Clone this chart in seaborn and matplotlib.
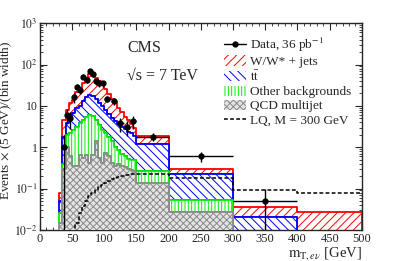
import numpy as np
import pandas as pd
import matplotlib
matplotlib.use("Agg")
import matplotlib.pyplot as plt
import seaborn as sns
from matplotlib.patches import Patch
from matplotlib.lines import Line2D
from matplotlib.ticker import MultipleLocator, FixedLocator, FixedFormatter, LogLocator

# Bin edges of the stacked histograms (GeV)
bin_edges = [30, 35, 40, 45, 50, 55, 60, 65, 70, 75, 80, 85, 90, 95, 100, 105,
             110, 115, 120, 125, 130, 135, 140, 145, 150, 200, 300, 400, 500]

# Events x (5 GeV)/(bin width), per process
w_jets = [0.028, 2.8, 4.2, 6.5, 7.4, 13.3, 17, 22, 31, 41.7, 37.5, 32.5, 28, 23, 17,
          12.5, 10, 7.8, 5.4, 3.9, 2.8, 2.1, 1.4, 1.1, 0.65, 0.08, 0.016, 0.027]
ttbar = [0.024, 1.4, 1.8, 3.3, 4.0, 5.6, 6.2, 8.4, 10.5, 12.3, 11.8, 9.9, 8.5, 7.4, 5.8,
         4.7, 3.6, 3.17, 2.74, 2.4, 2.1, 1.88, 1.7, 1.4, 0.94, 0.166, 0.020, 0]
other_bkg = [0.011, 0.1, 1.0, 1.6, 2.25, 2.75, 3.15, 4.05, 4.85, 5.58, 5.05, 3.2, 2.95, 2.18,
             1.48, 1.2, 0.98, 0.67, 0.46, 0.34, 0.27, 0.22, 0.22, 0.23, 0.12, 0.027, 0, 0]
qcd = [0.015, 0.3, 1.0, 0.6, 0.35, 0.35, 0.65, 0.55, 0.65, 0.42, 0.65, 1.4, 0.55, 0.42, 0.72,
       0.6, 0.42, 0.36, 0.4, 0.36, 0.33, 0.3, 0.28, 0.27, 0.14, 0.027, 0, 0]
lq_300 = [0, 0, 0, 0, 0.009, 0.015, 0.025, 0.037, 0.05, 0.065, 0.08, 0.095, 0.11, 0.125,
          0.14, 0.155, 0.17, 0.18, 0.19, 0.2, 0.21, 0.215, 0.22, 0.225, 0.23, 0.18, 0.092, 0.078]

# Data points
data_x = [37.5, 42.5, 47.5, 52.5, 57.5, 62.5, 67.5, 72.5, 77.5, 82.5, 87.5, 92.5, 97.5,
          105, 115, 125, 135, 145, 175, 250, 350]
data_y = [1, 6, 5, 16, 29, 24, 51, 43, 68, 59, 39, 35, 35, 15, 13, 3.8, 3.1, 4.2, 1.8, 0.6, 0.05]
data_err = [1, 2.4, 2.2, 4, 5.4, 4.9, 7.1, 6.6, 8.2, 7.7, 6.2, 5.9, 5.9, 2.7, 2.5, 1.4, 1.2,
            1.4, 0.42, 0.17, 0.05]
data_xerr = [2.5] * 13 + [5, 5, 5, 5, 5, 25, 50, 50]

y_ticks = [1e-2, 1e-1, 1, 10, 1e2, 1e3]
y_tick_labels = ["$10^{-2}$", "$10^{-1}$", "1", "10", "$10^{2}$", "$10^{3}$"]

order = ["W/W* + jets", "tt", "Other backgrounds", "QCD multijet"]
colors = {"W/W* + jets": "#ff0000", "tt": "#0000ff",
          "Other backgrounds": "#00ee00", "QCD multijet": "#8a8a8a"}
hatches = {"W/W* + jets": "////", "tt": "\\\\\\\\",
           "Other backgrounds": "|||||", "QCD multijet": "xxxxx"}
faces = {"W/W* + jets": "white", "tt": "white",
         "Other backgrounds": "white", "QCD multijet": "#e4e4e4"}

sns.set_style("ticks")
plt.rcParams["font.family"] = ["Liberation Serif", "DejaVu Serif"]
plt.rcParams["mathtext.fontset"] = "stix"
plt.rcParams["hatch.linewidth"] = 0.7

centers = [(a + b) / 2 for a, b in zip(bin_edges[:-1], bin_edges[1:])]
filas = []
for name, vals in zip(order, [w_jets, ttbar, other_bkg, qcd]):
    for c, v in zip(centers, vals):
        filas.append({"mt": c, "val": v, "proc": name})
df = pd.DataFrame(filas)

fig = plt.figure(figsize=(4.07, 2.61), dpi=100)
ax = fig.add_axes([0.098, 0.119, 0.791, 0.792])

sns.histplot(data=df, x="mt", weights="val", hue="proc", hue_order=order,
             bins=bin_edges, multiple="stack", element="step", fill=True,
             palette=colors, alpha=1, linewidth=1.3, legend=False, ax=ax)

# hatch + white fill per process, top layer drawn first
zord = {name: i + 1 for i, name in enumerate(order)}
for coll in ax.collections:
    fc = tuple(np.round(coll.get_facecolor()[0][:3], 3))
    for name in order:
        if tuple(np.round(matplotlib.colors.to_rgb(colors[name]), 3)) == fc:
            coll.set_facecolor(faces[name])
            coll.set_edgecolor(colors[name])
            coll.set_hatch(hatches[name])
            coll.set_linewidth(1.3)
            coll.set_zorder(zord[name])

sns.histplot(x=centers, weights=lq_300, bins=bin_edges, element="step", fill=False,
             color="black", linewidth=1.1, linestyle=(0, (2.5, 1.5)), ax=ax, zorder=8)

ax.errorbar(data_x, data_y, yerr=data_err, xerr=data_xerr, fmt="o", color="black",
            ms=3.5, lw=1, capsize=0, zorder=10)

ax.set_yscale("log")
ax.set_xlim(0, 500)
ax.set_ylim(1e-2, 1e3)
ax.xaxis.set_major_locator(MultipleLocator(50))
ax.xaxis.set_minor_locator(MultipleLocator(10))
ax.yaxis.set_major_locator(FixedLocator(y_ticks))
ax.yaxis.set_major_formatter(FixedFormatter(y_tick_labels))
ax.yaxis.set_minor_locator(LogLocator(base=10, subs=np.arange(2, 10)))
ax.tick_params(which="both", direction="in", top=True, right=True, labelsize=9)
ax.tick_params(axis="y", labelsize=8.5, pad=1.5)
ax.tick_params(which="major", length=5, width=0.8)
ax.tick_params(axis="x", pad=2)
ax.tick_params(which="minor", length=2.5, width=0.6)
for s in ax.spines.values():
    s.set_linewidth(1)

ax.set_ylabel("Events $\\times$ (5 GeV)/(bin width)", fontsize=9.5)
ax.yaxis.set_label_coords(-0.08, 0.53)
ax.set_xlabel("")
ax.text(1.0, -0.075, "$\\mathrm{m}_{\\mathrm{T},e\\nu}$ [GeV]", transform=ax.transAxes,
        fontsize=10.5, ha="right", va="top")

ax.text(0.273, 0.88, "CMS", transform=ax.transAxes, fontsize=11.5, va="center", ha="left")
ax.text(0.27, 0.745, "\u221as = 7 TeV", transform=ax.transAxes,
        fontsize=11.5, va="center", ha="left")

handles = [
    Line2D([0], [0], color="black", marker="o", ms=3.5, lw=1),
    Patch(facecolor="white", edgecolor=colors[order[0]], hatch=hatches[order[0]], lw=0),
    Patch(facecolor="white", edgecolor=colors[order[1]], hatch=hatches[order[1]], lw=0),
    Patch(facecolor="white", edgecolor=colors[order[2]], hatch=hatches[order[2]], lw=0),
    Patch(facecolor=faces[order[3]], edgecolor=colors[order[3]], hatch=hatches[order[3]], lw=0),
    Line2D([0], [0], color="black", lw=1.1, linestyle=(0, (2.5, 1.5))),
]
labels = ["Data, 36 pb$^{-1}$", "W/W* + jets", "$\\mathrm{t\\bar{t}}$",
          "Other backgrounds", "QCD multijet", "LQ, M = 300 GeV"]
ax.legend(handles, labels, loc="upper left", bbox_to_anchor=(0.555, 0.965), frameon=False,
          fontsize=9.5, handlelength=1.7, handleheight=0.8, handletextpad=0.3,
          labelspacing=0.12, borderaxespad=0)

fig.savefig("out.png", dpi=100)
